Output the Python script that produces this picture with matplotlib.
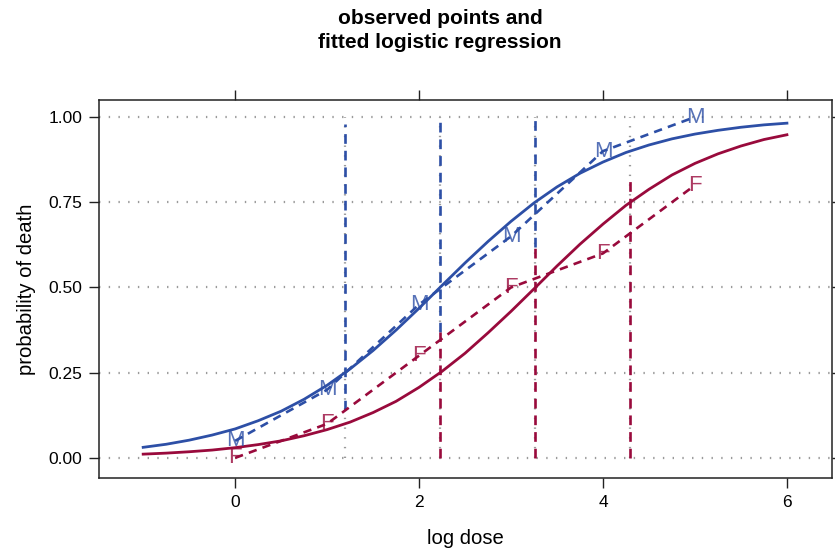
import matplotlib
matplotlib.use('Agg')
import matplotlib.pyplot as plt

plt.rcParams['font.family'] = ['Liberation Sans', 'DejaVu Sans']
plt.rcParams['lines.scale_dashes'] = False

# observed proportions (log dose 0..5)
dose = [0, 1, 2, 3, 4, 5]
p_male = [0.05, 0.20, 0.45, 0.65, 0.90, 1.00]
p_female = [0.00, 0.10, 0.30, 0.50, 0.60, 0.80]

curve_x = [-1.0, -0.75, -0.5, -0.25, 0.0, 0.25, 0.5, 0.75, 1.0, 1.25, 1.5,
           1.75, 2.0, 2.25, 2.5, 2.75, 3.0, 3.25, 3.5, 3.75, 4.0, 4.25,
           4.5, 4.75, 5.0, 5.25, 5.5, 5.75, 6.0]
fit_male = [0.031, 0.040, 0.052, 0.067, 0.085, 0.109, 0.137, 0.172, 0.213,
            0.261, 0.315, 0.375, 0.439, 0.506, 0.572, 0.635, 0.694, 0.748,
            0.795, 0.835, 0.868, 0.896, 0.918, 0.936, 0.950, 0.961, 0.970,
            0.977, 0.982]
fit_female = [0.011, 0.014, 0.018, 0.023, 0.030, 0.039, 0.050, 0.065, 0.083,
              0.105, 0.133, 0.166, 0.207, 0.254, 0.307, 0.367, 0.430, 0.496,
              0.563, 0.627, 0.686, 0.741, 0.788, 0.830, 0.864, 0.892, 0.915,
              0.934, 0.948]

# LD25 / LD50 / LD75 reference lines
ld_x = [1.197, 2.23, 3.263, 4.296]
male_seg_x = [1.197, 2.229, 3.262]
male_seg_lo = [0.14, 0.37, 0.62]
male_seg_hi = [0.98, 1.00, 1.00]
female_seg_x = [2.231, 3.264, 4.296]
female_seg_lo = [0.0, 0.0, 0.0]
female_seg_hi = [0.37, 0.62, 0.82]

blue = '#2D4FA6'
red = '#990A3C'
grid_col = '#9A9A9A'
letter_font = ['Liberation Sans Narrow', 'Liberation Sans', 'DejaVu Sans']

fig = plt.figure(figsize=(8.35, 5.5), dpi=100)
ax = fig.add_axes([0.1186, 0.1309, 0.8778, 0.6873])

for yv in [0, 0.25, 0.5, 0.75, 1.0]:
    ax.axhline(yv, color=grid_col, lw=1.6, linestyle=(0, (1, 6)), zorder=1)
for xv in ld_x:
    ax.plot([xv, xv], [0, 1], color=grid_col, lw=1.6,
            linestyle=(0, (1, 6)), zorder=1)

ax.vlines(male_seg_x, male_seg_lo, male_seg_hi, colors=blue, lw=1.9,
          linestyles=[(0, (7, 5))], zorder=2)
ax.vlines(female_seg_x, female_seg_lo, female_seg_hi, colors=red, lw=1.9,
          linestyles=[(0, (7, 5))], zorder=2)

ax.plot(curve_x, fit_male, color=blue, lw=2.0, zorder=3)
ax.plot(curve_x, fit_female, color=red, lw=2.0, zorder=3)

ax.plot(dose, p_male, color=blue, lw=1.9, linestyle=(0, (6, 4.5)), zorder=3)
ax.plot(dose, p_female, color=red, lw=1.9, linestyle=(0, (6, 4.5)), zorder=3)
for xv, yv in zip(dose, p_male):
    ax.text(xv, yv, 'M', color=blue, alpha=0.8, fontsize=16,
            family=letter_font, ha='center', va='center', zorder=4)
for xv, yv in zip(dose, p_female):
    ax.text(xv, yv, 'F', color=red, alpha=0.8, fontsize=16,
            family=letter_font, ha='center', va='center', zorder=4)

ax.set_xlim(-1.48, 6.49)
ax.set_ylim(-0.059, 1.05)
ax.set_xticks([0, 2, 4, 6])
ax.set_yticks([0, 0.25, 0.5, 0.75, 1.0])
ax.set_yticklabels(['0.00', '0.25', '0.50', '0.75', '1.00'])
ax.tick_params(direction='out', length=7, width=1, labelsize=12.5, pad=5,
               top=True, right=True, color='#222222')
for sp in ax.spines.values():
    sp.set_linewidth(1.1)
    sp.set_color('#222222')

ax.set_xlabel('log dose', fontsize=14.6, labelpad=14)
ax.set_ylabel('probability of death', fontsize=14.6, labelpad=9)

fig.text(0.527, 0.944, 'observed points and\nfitted logistic regression',
         ha='center', va='center', fontsize=15, fontweight='bold',
         linespacing=1.35)

fig.savefig('out.png', dpi=100)
